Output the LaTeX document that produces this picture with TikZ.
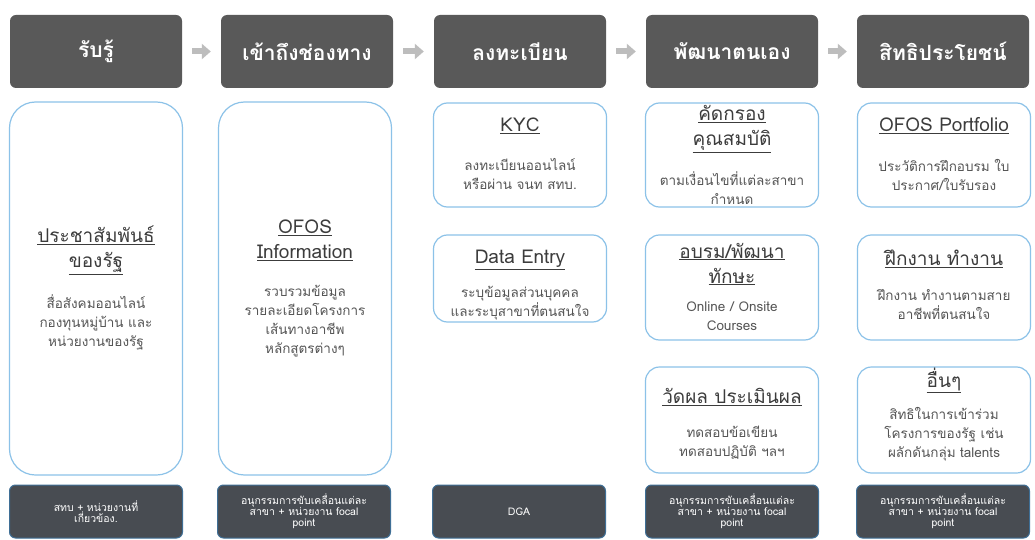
\documentclass[tikz,border=0pt]{standalone}
\usepackage{fontspec}
\setmainfont[Script=Thai]{Loma}
\usepackage{tikz}
\usetikzlibrary{positioning,arrows.meta}

\definecolor{headgray}{HTML}{595959}
\definecolor{footgray}{HTML}{484C52}
\definecolor{footblue}{HTML}{3F6F96}
\definecolor{boxblue}{HTML}{8CC2E8}
\definecolor{titlegray}{HTML}{3C3C3C}
\definecolor{descgray}{HTML}{555555}
\definecolor{arrowgray}{HTML}{BDBDBD}

\tikzset{
  header/.style={fill=headgray, rounded corners=6pt, minimum width=172pt, minimum height=73pt,
    text=white, font=\fontsize{21}{24}\selectfont\bfseries},
  footer/.style={fill=footgray, draw=footblue, line width=1pt, rounded corners=6pt,
    minimum width=173pt, minimum height=53pt, text=white, align=center,
    font=\fontsize{10.5}{11}\selectfont},
  infobox/.style={draw=boxblue, line width=1.2pt, fill=white, rounded corners=14pt, minimum width=173pt},
  bigbox/.style={rounded corners=26pt},
  boxtitle/.style={text=titlegray, align=center, font=\fontsize{19}{25}\selectfont},
  boxdesc/.style={text=descgray, align=center, font=\fontsize{13.5}{19}\selectfont},
  steparrow/.style={draw=arrowgray, line width=6pt, -{Triangle[length=9pt,width=15pt]},
    shorten <=10pt, shorten >=10pt}
}

% box with underlined title and a short description
\newcommand{\infobox}[9][]{%
  \node[infobox, #1, minimum height=#5pt] (#2) at (#3,#4) {};
  \node[boxtitle] (#2-title) at (#3,#6) {#7};
  \node[boxdesc] (#2-desc) at (#3,#8) {#9};
}
\newcommand{\agency}{สทบ + หน่วยงานที่\\เกี่ยวข้อง.}
\newcommand{\board}{อนุกรรมการขับเคลื่อนแต่ละ\\สาขา + หน่วยงาน focal\\point}

\begin{document}
\begin{tikzpicture}[x=1pt,y=-1pt]
    \fill[white] (0,0) rectangle (1035,540);
    \foreach \i/\x/\t in {1/96/รับรู้, 2/307/เข้าถึงช่องทาง, 3/520/ลงทะเบียน, 4/732/พัฒนาตนเอง, 5/943/สิทธิประโยชน์}
      \node[header] (h\i) at (\x,51.5) {\t};
    \foreach \i/\j in {1/2, 2/3, 3/4, 4/5}
      \draw[steparrow] (h\i) -- (h\j);

    \infobox[bigbox]{pr}{96}{288.5}{373}{250}{\underline{ประชาสัมพันธ์}\\\underline{ของรัฐ}}{322}{สื่อสังคมออนไลน์\\กองทุนหมู่บ้าน และ\\หน่วยงานของรัฐ}
    \infobox[bigbox]{info}{305}{288.5}{373}{240}{\underline{OFOS}\\\underline{Information}}{321}{รวบรวมข้อมูล\\รายละเอียดโครงการ\\เส้นทางอาชีพ\\หลักสูตรต่างๆ}

    \infobox{kyc}{520}{155}{104}{126}{\underline{KYC}}{173.5}{ลงทะเบียนออนไลน์\\หรือผ่าน จนท สทบ.}
    \infobox{entry}{520}{278.5}{87}{260}{\underline{Data Entry}}{303}{ระบุข้อมูลส่วนบุคคล\\และระบุสาขาที่ตนสนใจ}

    \infobox{screen}{732}{155}{104}{129}{\underline{คัดกรอง}\\\underline{คุณสมบัติ}}{188}{ตามเงื่อนไขที่แต่ละสาขา\\กำหนด}
    \infobox{train}{732}{287.5}{105}{264}{\underline{อบรม/พัฒนา}\\\underline{ทักษะ}}{316}{Online / Onsite\\Courses}
    \infobox{eval}{732}{420}{106}{397}{\underline{วัดผล ประเมินผล}}{443}{ทดสอบข้อเขียน\\ทดสอบปฏิบัติ ฯลฯ}

    \infobox{port}{944}{155}{104}{126}{\underline{OFOS Portfolio}}{174.5}{ประวัติการฝึกอบรม ใบ\\ประกาศ/ใบรับรอง}
    \infobox{work}{944}{287.5}{105}{259}{\underline{ฝึกงาน ทำงาน}}{304}{ฝึกงาน ทำงานตามสาย\\อาชีพที่ตนสนใจ}
    \infobox{other}{944}{420}{106}{380}{\underline{อื่นๆ}}{434}{สิทธิในการเข้าร่วม\\โครงการของรัฐ เช่น\\ผลักดันกลุ่ม talents}

    \foreach \i/\x/\t in {1/96/\agency, 2/304/\board, 3/519/DGA, 4/732/\board, 5/943/\board}
      \node[footer] (f\i) at (\x,511.5) {\t};
\end{tikzpicture}
\end{document}
